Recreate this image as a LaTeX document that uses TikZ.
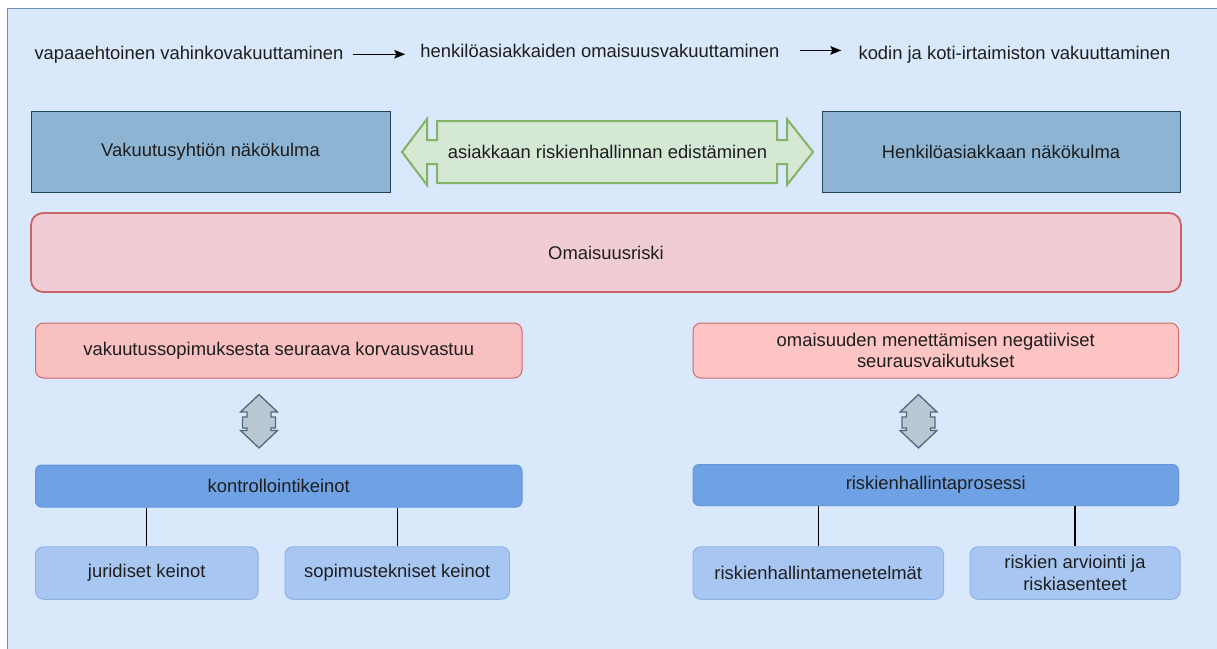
\documentclass[tikz,border=0pt]{standalone}
\usepackage{fontspec}
\setmainfont{Liberation Sans}
\usetikzlibrary{arrows.meta}

\definecolor{bgfill}{HTML}{DAE8FC}
\definecolor{bgline}{HTML}{6C8EBF}
\definecolor{viewfill}{HTML}{8EB4D3}
\definecolor{viewline}{HTML}{23445D}
\definecolor{greenfill}{HTML}{D5E8D4}
\definecolor{greenline}{HTML}{82B366}
\definecolor{riskfill}{HTML}{F0CCD4}
\definecolor{riskline}{HTML}{C96565}
\definecolor{pinkfill}{HTML}{F8C0C0}
\definecolor{pinkfilltwo}{HTML}{FFC4C4}
\definecolor{pinkline}{HTML}{D06A6A}
\definecolor{barfill}{HTML}{6EA2E4}
\definecolor{barline}{HTML}{6396DA}
\definecolor{leaffill}{HTML}{A7C7F2}
\definecolor{leafline}{HTML}{8FB2E6}
\definecolor{grayfill}{HTML}{BAC8D3}
\definecolor{grayline}{HTML}{52697A}
\definecolor{ink}{HTML}{1E1E1E}

\tikzset{
  plain/.style={inner sep=0pt, text=ink},
  viewbox/.style={draw=viewline, fill=viewfill, line width=1pt, text=ink},
  riskbox/.style={draw=riskline, fill=riskfill, line width=1.8pt, rounded corners=12pt, text=ink},
  pinkbox/.style={draw=pinkline, fill=pinkfill, line width=1pt, rounded corners=8pt, text=ink, align=center},
  barbox/.style={draw=barline, fill=barfill, line width=1pt, rounded corners=6pt, text=ink},
  leafbox/.style={draw=leafline, fill=leaffill, line width=1pt, rounded corners=8pt, text=ink, align=center},
  flowarrow/.style={line width=1.3pt, -{Stealth[length=11pt,width=8.5pt,inset=2pt]}},
  conn/.style={line width=1.3pt, draw=black},
  bigarrow/.style={draw=greenline, fill=greenfill, line width=2pt, line join=miter},
  smallarrow/.style={draw=grayline, fill=grayfill, line width=1.3pt, line join=miter},
  vdarrow/.pic={
    \draw[smallarrow] (0,-27) -- (18.5,-9.5) -- (12,-9.5) -- (12,-4.5) -- (16.5,-4.5) -- (16.5,6.5)
      -- (12,6.5) -- (12,9) -- (18.5,9) -- (0,26.5) -- (-18.5,9) -- (-12,9) -- (-12,6.5)
      -- (-16.5,6.5) -- (-16.5,-4.5) -- (-12,-4.5) -- (-12,-9.5) -- (-18.5,-9.5) -- cycle;
  }
}

\begin{document}
\begin{tikzpicture}[x=1pt, y=-1pt, font=\fontsize{18.4}{21.6}\selectfont]
\useasboundingbox (0,0) rectangle (1217,648);

% panel
\fill[bgfill] (7.5,8.5) rectangle (1230,660);
\draw[bgline, line width=1pt] (7.5,660) -- (7.5,8.5) -- (1230,8.5);

% heading chain
\node[plain, anchor=base] (t1) at (189,59) {vapaaehtoinen vahinkovakuuttaminen};
\node[plain, anchor=base] (t2) at (600,57) {henkilöasiakkaiden omaisuusvakuuttaminen};
\node[plain, anchor=base] (t3) at (1014.5,59) {kodin ja koti-irtaimiston vakuuttaminen};
\draw[flowarrow] ([xshift=9pt]t1.east) -- ([xshift=-15pt]t2.west |- t1.east);
\draw[flowarrow] ([xshift=20pt]t2.east) -- ([xshift=-17pt]t3.west |- t2.east);

% two points of view
\node[viewbox, minimum width=359, minimum height=81] (ins) at (210.5,151.5) {Vakuutusyhtiön näkökulma};
\node[viewbox, minimum width=358, minimum height=81] (cli) at (1001,151.5) {Henkilöasiakkaan näkökulma};

% green double arrow between them
\draw[bigarrow] (402,152) -- (427,119) -- (427,140) -- (437,140) -- (437,121) -- (777,121)
  -- (777,140) -- (787,140) -- (787,119) -- (813,152) -- (787,185) -- (787,164) -- (777,164)
  -- (777,183) -- (437,183) -- (437,164) -- (427,164) -- (427,185) -- cycle;
\node[plain] (prom) at (607.5,152) {asiakkaan riskienhallinnan edistäminen};

% property risk
\node[riskbox, minimum width=1150, minimum height=79] (risk) at (606,252.5) {Omaisuusriski};

% left branch
\node[pinkbox, minimum width=486.5, minimum height=55] (vak) at (278.75,350.5) {vakuutussopimuksesta seuraava korvausvastuu};
\node[barbox, minimum width=486.5, minimum height=42] (kon) at (278.75,486) {kontrollointikeinot};
\node[leafbox, minimum width=222.5, minimum height=52.5] (jur) at (146.75,573) {juridiset keinot};
\node[leafbox, minimum width=224.5, minimum height=52.5] (sop) at (397.25,573) {sopimustekniset keinot};
\pic at (259,421.5) {vdarrow};
\draw[conn] (jur.north |- kon.south) -- (jur.north);
\draw[conn] (sop.north |- kon.south) -- (sop.north);

% right branch
\node[pinkbox, fill=pinkfilltwo, minimum width=485.5, minimum height=55] (oma) at (935.75,350.5) {omaisuuden menettämisen negatiiviset\\seurausvaikutukset};
\node[barbox, minimum width=485.5, minimum height=41] (pro) at (935.75,485) {riskienhallintaprosessi};
\node[leafbox, minimum width=250.5, minimum height=52.5] (men) at (818.25,573) {riskienhallintamenetelmät};
\node[leafbox, minimum width=210, minimum height=52.5] (arv) at (1075,573) {riskien arviointi ja\\riskiasenteet};
\pic at (918.5,421.5) {vdarrow};
\draw[conn] (men.north |- pro.south) -- (men.north);
\draw[conn] (arv.north |- pro.south) -- (arv.north);
\end{tikzpicture}
\end{document}
